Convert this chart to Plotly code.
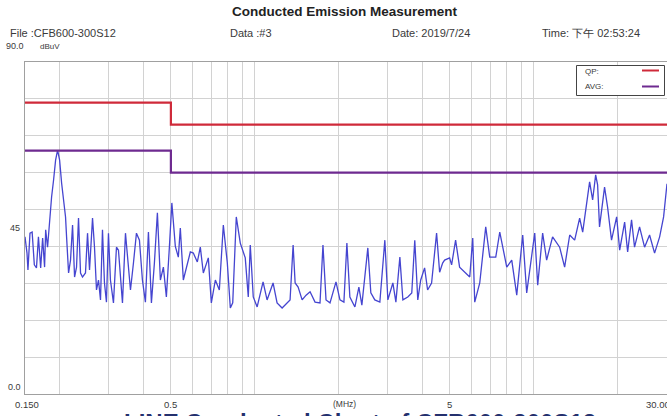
import math
import plotly.graph_objects as go

# ---------------- data ----------------
noise_freq = [
    0.150, 0.1525, 0.1537, 0.1563, 0.1591, 0.1620, 0.1649, 0.1676, 0.1707, 0.1735,
    0.1763, 0.1779, 0.1807, 0.1837, 0.1868, 0.1899, 0.1931, 0.1963, 0.1996, 0.2029,
    0.2062, 0.2096, 0.2114, 0.2149, 0.2184, 0.2221, 0.2258, 0.2295, 0.2333, 0.2372,
    0.2411, 0.2471, 0.2513, 0.2555, 0.2619, 0.2662, 0.2706, 0.2751, 0.2797, 0.2843,
    0.2890, 0.2938, 0.2987, 0.3036, 0.3113, 0.3191, 0.3244, 0.3298, 0.3353, 0.3437,
    0.3523, 0.3582, 0.3671, 0.3763, 0.3857, 0.3953, 0.4052, 0.4154, 0.4258, 0.4364,
    0.4473, 0.4585, 0.4700, 0.4817, 0.4938, 0.5040,
    0.5187, 0.5317, 0.5405, 0.5541, 0.5871, 0.6018, 0.6219, 0.6375, 0.6535, 0.6810,
    0.6981, 0.7217, 0.7458, 0.7708, 0.7966, 0.8166, 0.833, 0.8578, 0.8866, 0.9237,
    0.947, 0.9627, 0.9868, 1.019,
    1.070, 1.106, 1.162, 1.201, 1.252, 1.283, 1.337, 1.371, 1.394, 1.429,
    1.477, 1.526, 1.577, 1.643, 1.712, 1.754, 1.799, 1.859, 1.953, 2.018,
    2.085, 2.137, 2.190, 2.283, 2.359, 2.418, 2.540, 2.604, 2.691, 2.805,
    2.923, 2.997, 3.123, 3.202, 3.309, 3.392, 3.532, 3.650, 3.742, 3.836,
    3.930, 4.058, 4.160, 4.299, 4.480, 4.594, 4.709, 4.787, 4.988,
    5.071, 5.241, 5.416, 5.890, 6.037, 6.138, 6.397, 6.721, 6.947, 7.300,
    7.546, 7.994, 8.330, 8.681, 9.120, 9.425, 10.07, 10.32, 10.75, 11.11,
    11.67, 12.37, 12.89, 13.44, 14.00, 14.59, 14.96, 15.84, 16.24, 16.65,
    16.92, 17.19, 17.92, 18.37, 18.98, 19.80, 20.30, 21.15, 21.68, 22.39,
    22.95, 23.92, 24.93, 25.98, 27.08, 28.23, 29.17, 30.0,
]
noise_dbuv = [
    42.6, 38.2, 33.6, 43.6, 43.9, 35.0, 34.2, 42.6, 34.2, 42.3,
    34.4, 44.5, 39.8, 48.0, 53.4, 58.0, 63.4, 66.1, 63.4, 57.2,
    51.8, 48.0, 42.6, 32.8, 36.3, 45.8, 31.7, 34.4, 47.7, 32.8,
    31.7, 32.8, 43.6, 33.6, 47.7, 39.8, 28.2, 30.9, 25.5, 44.5,
    30.1, 24.9, 43.6, 30.9, 24.7, 39.8, 39.0, 30.9, 24.7, 43.6,
    32.8, 28.2, 35.5, 43.6, 41.7, 30.9, 24.9, 43.9, 24.7, 35.5,
    49.1, 30.9, 34.4, 26.3, 39.8, 51.8,
    40.0, 37.1, 45.0, 30.9, 38.5, 38.2, 35.8, 39.8, 32.8, 36.9,
    24.7, 30.9, 28.2, 45.8, 35.5, 23.3, 24.7, 48.0, 40.9, 36.9,
    26.3, 40.4, 26.3, 23.6,
    30.4, 25.5, 30.1, 24.7, 23.3, 24.1, 25.5, 40.4, 30.1, 29.0,
    25.5, 26.8, 27.7, 24.9, 24.7, 40.4, 25.5, 24.7, 30.4, 25.5,
    24.9, 40.9, 26.3, 23.6, 29.0, 24.1, 39.6, 27.4, 25.5, 24.9,
    41.7, 25.5, 30.1, 24.9, 37.1, 25.5, 26.3, 27.4, 41.7, 25.5,
    30.9, 34.2, 28.2, 30.1, 43.6, 33.0, 35.5, 36.3, 36.9,
    35.0, 41.7, 34.4, 31.7, 42.3, 24.9, 30.1, 45.3, 37.1, 37.1,
    43.9, 34.4, 36.3, 26.8, 43.1, 27.4, 43.6, 29.5, 43.6, 36.3,
    42.6, 39.8, 34.4, 43.1, 41.7, 47.7, 43.9, 57.5, 52.6, 59.4,
    56.7, 45.3, 56.1, 50.7, 41.7, 48.0, 39.0, 46.6, 38.5, 47.2,
    39.8, 45.3, 39.8, 43.1, 38.2, 42.6, 48.0, 57.0,
]

limit_freq = [0.15, 0.5, 0.5, 30.0]
qp_limit = [79, 79, 73, 73]
avg_limit = [66, 66, 60, 60]

grid_freqs = [0.2, 0.3, 0.4, 0.5, 0.6, 0.7, 0.8, 0.9, 1, 2, 3, 4, 5, 6, 7, 8, 9, 10, 20]
x_tick_labels = [(0.15, "0.150"), (0.5, "0.5"), (5, "5"), (30.0, "30.000")]
y_tick_labels = [(90, "90.0"), (45, "45"), (0, "0.0")]

title_text = "Conducted Emission Measurement"
header_items = ["File :CFB600-300S12", "Data :#3", "Date: 2019/7/24", "Time: 下午 02:53:24"]

# ---------------- figure ----------------
W, H = 667, 416
L, R, T, B = 25, 0, 62, 22
PW, PH = W - L - R, H - T - B
FONT = "Liberation Sans, Arial, sans-serif"
TXT = "#3a3a3a"

def px_x(p):
    return (p - L) / PW

def px_y(p):
    return (H - B - p) / PH

fig = go.Figure()
fig.add_trace(go.Scatter(x=noise_freq, y=noise_dbuv, mode="lines",
                         line=dict(color="#4545d0", width=1.3), hoverinfo="skip"))
fig.add_trace(go.Scatter(x=limit_freq, y=qp_limit, mode="lines",
                         line=dict(color="#cf2a3a", width=2.2), hoverinfo="skip"))
fig.add_trace(go.Scatter(x=limit_freq, y=avg_limit, mode="lines",
                         line=dict(color="#6e2a90", width=2.2), hoverinfo="skip"))

ann = []
# caption at the bottom, only its top edge lies inside the picture (as in the reference)
ann.append(dict(text="<b>LINE Conducted Chart of CFB600-300S12</b>", x=px_x(360), y=px_y(407),
                xref="paper", yref="paper", showarrow=False, xanchor="center", yanchor="top",
                font=dict(family=FONT, size=24, color="#24306e")))
# title + header
ann.append(dict(text="<b>" + title_text + "</b>", x=px_x(345), y=px_y(11), xref="paper", yref="paper",
                showarrow=False, xanchor="center", yanchor="middle",
                font=dict(family=FONT, size=13.5, color="#222")))
header_x = [8, 228, 390, 540]
for hx, ht in zip(header_x, header_items):
    ann.append(dict(text=ht, x=px_x(hx), y=px_y(33), xref="paper", yref="paper", showarrow=False,
                    xanchor="left", yanchor="middle", font=dict(family=FONT, size=11, color=TXT)))
ann.append(dict(text="dBuV", x=px_x(38), y=px_y(46), xref="paper", yref="paper", showarrow=False,
                xanchor="left", yanchor="middle", font=dict(family=FONT, size=8, color=TXT)))
# y labels
for val, lab in y_tick_labels:
    py = (H - B) - val / 90 * PH
    if val == 90:
        py = 46
    elif val == 0:
        py = 386.5
    ann.append(dict(text=lab, x=px_x(14.5), y=px_y(py), xref="paper", yref="paper", showarrow=False,
                    xanchor="center", yanchor="middle", font=dict(family=FONT, size=9, color=TXT)))
# x labels
lo, hi = math.log10(0.15), math.log10(30.0)
for f, lab in x_tick_labels:
    xp = (math.log10(f) - lo) / (hi - lo)
    if f == 0.15:
        xp = px_x(27)
    if f == 30.0:
        xp = px_x(660)
    ann.append(dict(text=lab, x=xp, y=px_y(404), xref="paper", yref="paper", showarrow=False,
                    xanchor="center", yanchor="middle", font=dict(family=FONT, size=9.5, color=TXT)))
ann.append(dict(text="(MHz)", x=px_x(344), y=px_y(404), xref="paper", yref="paper", showarrow=False,
                xanchor="center", yanchor="middle", font=dict(family=FONT, size=8.5, color=TXT)))
# legend texts
ann.append(dict(text="QP:", x=px_x(583), y=px_y(71), xref="paper", yref="paper", showarrow=False,
                xanchor="left", yanchor="middle", font=dict(family=FONT, size=8, color=TXT)))
ann.append(dict(text="AVG:", x=px_x(583), y=px_y(86), xref="paper", yref="paper", showarrow=False,
                xanchor="left", yanchor="middle", font=dict(family=FONT, size=8, color=TXT)))

shapes = [
    dict(type="rect", xref="paper", yref="paper", x0=px_x(576.5), x1=px_x(664.5),
         y0=px_y(95.5), y1=px_y(65.5), line=dict(color="#444", width=1), fillcolor="white", layer="above"),
    dict(type="line", xref="paper", yref="paper", x0=px_x(642), x1=px_x(659),
         y0=px_y(70.5), y1=px_y(70.5), line=dict(color="#cf2a3a", width=2), layer="above"),
    dict(type="line", xref="paper", yref="paper", x0=px_x(642), x1=px_x(659),
         y0=px_y(86.5), y1=px_y(86.5), line=dict(color="#6e2a90", width=2), layer="above"),
]

fig.update_layout(
    width=W, height=H, margin=dict(l=L, r=R, t=T, b=B, pad=0),
    paper_bgcolor="white", plot_bgcolor="white", showlegend=False,
    annotations=ann, shapes=shapes,
    xaxis=dict(type="log", range=[lo, hi], tickvals=grid_freqs, showticklabels=False, ticks="",
               showgrid=True, gridcolor="#d2d2d2", gridwidth=1, zeroline=False,
               showline=True, linecolor="#a0a0a0", linewidth=1, mirror=True),
    yaxis=dict(range=[0, 90], dtick=10, showticklabels=False, ticks="",
               showgrid=True, gridcolor="#d2d2d2", gridwidth=1, zeroline=False,
               showline=True, linecolor="#a0a0a0", linewidth=1, mirror=True),
)

fig.write_html("out.html", config={"displayModeBar": False, "staticPlot": True},
               post_script="document.body.style.margin='0';document.body.style.overflow='hidden';")
